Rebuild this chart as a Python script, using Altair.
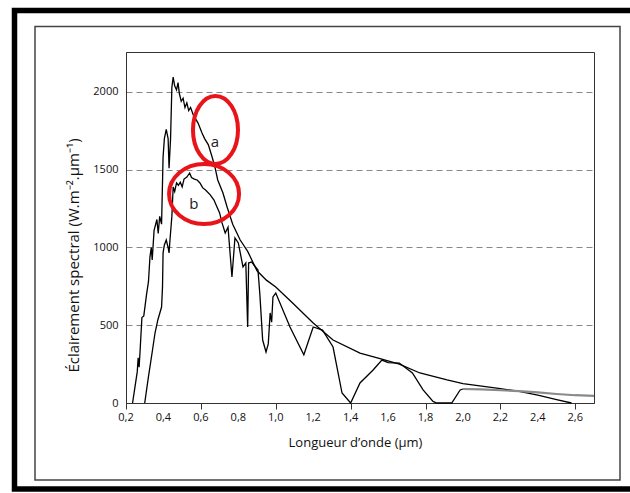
import altair as alt
import pandas as pd

# Curve a (hors atmosphère)
lam_a = [0.235, 0.25, 0.26, 0.265, 0.27, 0.275, 0.285, 0.295, 0.31, 0.32, 0.328, 0.335, 0.34, 0.35,
         0.365, 0.372, 0.38, 0.39, 0.398, 0.405, 0.415, 0.425, 0.43, 0.438, 0.445, 0.452, 0.46,
         0.47, 0.478, 0.485, 0.495, 0.505, 0.515, 0.525, 0.535, 0.545, 0.56, 0.57, 0.585, 0.606,
         0.62, 0.64, 0.66, 0.675, 0.69, 0.718, 0.74, 0.77, 0.81, 0.85, 0.9, 0.95, 1.0, 1.09, 1.2,
         1.306, 1.45, 1.557, 1.66, 1.77, 1.915, 2.0, 2.1, 2.2, 2.3, 2.4, 2.5, 2.58]
irr_a = [0, 120, 200, 290, 230, 330, 550, 560, 700, 780, 940, 1000, 920, 1110,
         1180, 1090, 1200, 1150, 1580, 1700, 1760, 1700, 1510, 1700, 2030, 2096, 2040,
         2013, 2060, 1990, 1940, 1960, 1900, 1930, 1880, 1900, 1850, 1830, 1800, 1736,
         1700, 1660, 1582, 1518, 1434, 1350, 1260, 1150, 1048, 975, 850, 790, 746, 643, 514,
         405, 321, 285, 250, 193, 148, 125, 108, 92, 75, 50, 22, 0]

# Curve b (au niveau du sol)
lam_b = [0.30, 0.32, 0.339, 0.355, 0.37, 0.39, 0.395, 0.398, 0.405, 0.415, 0.425, 0.43, 0.435,
         0.445, 0.452, 0.46, 0.47, 0.48, 0.49, 0.5, 0.51, 0.525, 0.54, 0.55, 0.565, 0.58, 0.595,
         0.61, 0.625, 0.65, 0.67, 0.686, 0.7, 0.713, 0.73, 0.745, 0.766, 0.782, 0.8, 0.825, 0.84,
         0.85, 0.855, 0.87, 0.905, 0.915, 0.93, 0.948, 0.96, 0.97, 0.978, 0.985, 1.0, 1.076, 1.15,
         1.2, 1.25, 1.306, 1.354, 1.4, 1.45, 1.52, 1.567, 1.6, 1.66, 1.73, 1.787, 1.84, 1.86,
         1.94, 1.985, 2.0]
irr_b = [0, 170, 320, 450, 534, 617, 745, 965, 1016, 1048, 1000, 965, 1050,
         1200, 1389, 1360, 1415, 1400, 1420, 1390, 1440, 1453, 1479, 1450, 1440, 1434, 1415,
         1383, 1370, 1338, 1305, 1260, 1222, 1158, 1093, 1130, 810, 1061, 1029, 875, 900,
         489, 900, 907, 855, 700, 405, 328, 380, 579, 520, 682, 707, 489, 310,
         489, 469, 360, 64, 0, 129, 212, 276, 260, 257, 193, 84, 10, 0,
         0, 84, 90]
lam_b_tail = [2.0, 2.1, 2.2, 2.3, 2.4, 2.5, 2.6, 2.7]
irr_b_tail = [90, 88, 82, 76, 68, 58, 50, 46]

ann_label = ["a", "b"]
ann_text_x = [0.675, 0.563]
ann_text_y = [1678, 1280]
ell_x = [0.678, 0.617]
ell_y = [1756, 1344]

x_ticks = [round(0.2 + 0.1 * i, 1) for i in range(26)]            # 0,2 ... 2,7
x_label_vals = [round(0.2 + 0.2 * i, 1) for i in range(13)]       # 0,2 ... 2,6
x_label_txt = ["0,2", "0,4", "0,6", "0,8", "1,0", "1,2", "1,4", "1,6", "1,8",
               "2,0", "2,2", "2,4", "2,6"]
y_ticks = [0, 500, 1000, 1500, 2000]

FONT = "Open Sans"

xs = alt.Scale(domain=[0.2, 2.7], nice=False, zero=False)
ys = alt.Scale(domain=[0, 2257], nice=False)

df_a = pd.DataFrame({"lam": lam_a, "E": irr_a})
df_b = pd.DataFrame({"lam": lam_b, "E": irr_b})
df_bt = pd.DataFrame({"lam": lam_b_tail, "E": irr_b_tail})
df_xl = pd.DataFrame({"lam": x_label_vals, "txt": x_label_txt})

x_axis = alt.Axis(
    values=x_ticks, labels=False,
    tickSize=6, tickColor="#333", domainColor="#333", grid=False,
    title="Longueur d’onde (µm)", titleFont=FONT, titleFontSize=13, titleFontWeight="normal",
    titleColor="#111", titleX=229, titleY=39, titleBaseline="middle",
)
y_axis = alt.Axis(
    values=y_ticks, format="d", tickSize=0, domainColor="#333", labelOverlap=False,
    grid=True, gridDash=[6, 4], gridColor="#888", gridWidth=1.2,
    labelFont=FONT, labelFontSize=11, labelColor="#111", labelPadding=8,
    title="Éclairement spectral (W.m⁻².µm⁻¹)", titleFont=FONT, titleFontSize=15,
    titleFontWeight="normal", titleColor="#111", titleAngle=270, titleX=-53, titleY=203,
    titleAlign="center", titleBaseline="middle",
)

base_a = alt.Chart(df_a).mark_line(color="black", strokeWidth=1.3).encode(
    x=alt.X("lam:Q", scale=xs, axis=x_axis),
    y=alt.Y("E:Q", scale=ys, axis=y_axis),
)
line_b = alt.Chart(df_b).mark_line(color="black", strokeWidth=1.3).encode(
    x=alt.X("lam:Q", scale=xs), y=alt.Y("E:Q", scale=ys)
)
line_bt = alt.Chart(df_bt).mark_line(color="#8a8a8a", strokeWidth=2.2).encode(
    x=alt.X("lam:Q", scale=xs), y=alt.Y("E:Q", scale=ys)
)
xlabels = alt.Chart(df_xl).mark_text(
    font=FONT, fontSize=11, color="#111", baseline="middle", align="center"
).encode(x=alt.X("lam:Q", scale=xs), y=alt.value(366), text="txt:N")

df_ann = pd.DataFrame({"label": ann_label, "tx": ann_text_x, "ty": ann_text_y,
                       "ex": ell_x, "ey": ell_y})
path_a = "M -0.662,0 A 0.662,1 0 1,0 0.662,0 A 0.662,1 0 1,0 -0.662,0 Z"
path_b = "M -1,0 A 1,0.857 0 1,0 1,0 A 1,0.857 0 1,0 -1,0 Z"
ell_a = alt.Chart(df_ann[df_ann.label == "a"]).mark_point(
    shape=path_a, size=4624, filled=False, color="#e8141a", strokeWidth=4, opacity=1
).encode(x=alt.X("ex:Q", scale=xs), y=alt.Y("ey:Q", scale=ys))
ell_b = alt.Chart(df_ann[df_ann.label == "b"]).mark_point(
    shape=path_b, size=4900, filled=False, color="#e8141a", strokeWidth=4, opacity=1
).encode(x=alt.X("ex:Q", scale=xs), y=alt.Y("ey:Q", scale=ys))
letters = alt.Chart(df_ann).mark_text(font=FONT, fontSize=15, color="#222", baseline="middle").encode(
    x=alt.X("tx:Q", scale=xs), y=alt.Y("ty:Q", scale=ys), text="label:N"
)

frame_df = pd.DataFrame({"k": [0]})
outer = alt.Chart(frame_df).mark_rect(fillOpacity=0, stroke="black", strokeWidth=5.5).encode(
    x=alt.value(-111.5), x2=alt.value(510), y=alt.value(-41.5), y2=alt.value(437)
)
inner = alt.Chart(frame_df).mark_rect(fillOpacity=0, stroke="#444", strokeWidth=1.5).encode(
    x=alt.value(-91), x2=alt.value(494), y=alt.value(-25.5), y2=alt.value(428)
)

chart = alt.layer(outer, inner, base_a, line_b, line_bt, xlabels, ell_a, ell_b, letters).properties(
    width=468, height=351,
    padding={"left": 126, "top": 52, "right": 36, "bottom": 90},
    autosize=alt.AutoSizeParams(type="none"),
    background="white",
).configure_view(stroke="#333", strokeWidth=1)

chart.save("out.html", embed_options={"renderer": "svg", "actions": False})
